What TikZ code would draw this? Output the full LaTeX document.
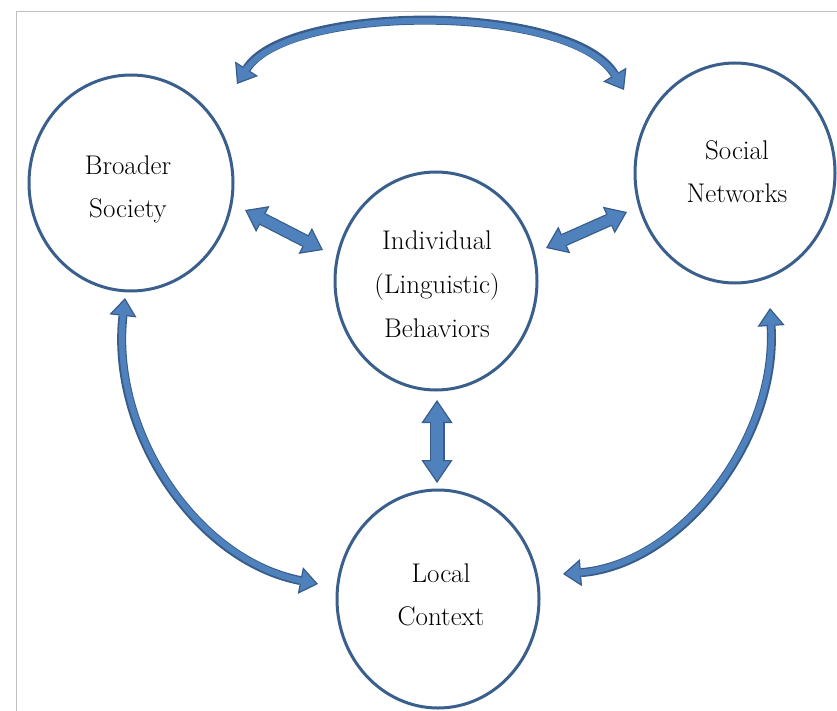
\documentclass[tikz,border=0pt]{standalone}
\usetikzlibrary{shapes.geometric, arrows.meta}

\definecolor{ringblue}{RGB}{58,95,140}
\definecolor{arrowfill}{RGB}{79,129,189}
\definecolor{arrowline}{RGB}{56,93,138}
\definecolor{framegray}{RGB}{191,191,191}

\begin{document}
\begin{tikzpicture}[x=1pt, y=-1pt,
  ring/.style={ellipse, draw=ringblue, line width=3pt, inner sep=0pt,
    minimum width=202pt, minimum height=218pt},
  lbl/.style={font=\fontsize{27}{32}\selectfont, anchor=base, inner sep=0pt},
  % fat straight double arrow: outlined heads, outlined shaft
  blockhead/.style={draw=arrowline, line width=1.2pt,
    {Triangle[length=20pt, width=29pt, fill=arrowfill]}-{Triangle[length=20pt, width=29pt, fill=arrowfill]}},
  blockedge/.style={draw=arrowline, line width=13pt, shorten <=20pt, shorten >=20pt},
  blockcore/.style={draw=arrowfill, line width=10.5pt, shorten <=17pt, shorten >=17pt},
  % bigger vertical double arrow
  tallhead/.style={draw=arrowline, line width=1.2pt,
    {Triangle[length=23pt, width=31pt, fill=arrowfill]}-{Triangle[length=23pt, width=31pt, fill=arrowfill]}},
  talledge/.style={draw=arrowline, line width=15pt, shorten <=23pt, shorten >=23pt},
  tallcore/.style={draw=arrowfill, line width=12.5pt, shorten <=20pt, shorten >=20pt},
  % thin curved double arrow
  curvehead/.style={draw=arrowline, line width=1.2pt,
    {Triangle[length=18pt, width=27pt, fill=arrowfill]}-{Triangle[length=18pt, width=27pt, fill=arrowfill]}},
  curveedge/.style={draw=arrowline, line width=9pt, shorten <=18pt, shorten >=18pt},
  curvecore/.style={draw=arrowfill, line width=6pt, shorten <=15pt, shorten >=15pt},
]
\useasboundingbox (0,0) rectangle (837,711);

% page frame
\draw[framegray, line width=1pt] (16,711) -- (16,12) -- (837,12);

% the four spheres
\node[ring, minimum width=204pt, minimum height=216pt] (bs) at (131,183) {};
\node[ring] (ind) at (436,281) {};
\node[ring, minimum width=200pt, minimum height=220pt] (sn) at (735,173) {};
\node[ring] (lc) at (438,599) {};

\node[lbl] (bs1) at (128,175) {Broader};
\node[lbl] (bs2) at (128,218) {Society};
\node[lbl] (in1) at (437,249) {Individual};
\node[lbl] (in2) at (437,293) {(Linguistic)};
\node[lbl] (in3) at (437,337) {Behaviors};
\node[lbl] (sn1) at (737,160) {Social};
\node[lbl] (sn2) at (737,203) {Networks};
\node[lbl] (lc1) at (441,582) {Local};
\node[lbl] (lc2) at (441,625) {Context};

% arrow end points
\coordinate (bsR) at (245,210);
\coordinate (inL) at (323,250);
\coordinate (inR) at (546,248);
\coordinate (snL) at (627,212);
\coordinate (inB) at (437,400);
\coordinate (lcT) at (437,483);
\coordinate (bsT) at (237,84);
\coordinate (snT) at (624,90);
\coordinate (bsB) at (125,298);
\coordinate (lcL) at (318,584);
\coordinate (snB) at (770,308);
\coordinate (lcR) at (563,574);

% straight double arrows
\foreach \a/\b in {bsR/inL, inR/snL}{
  \draw[blockhead] (\a) -- (\b);
  \draw[blockedge] (\a) -- (\b);
  \draw[blockcore] (\a) -- (\b);
}
\draw[tallhead] (inB) -- (lcT);
\draw[talledge] (inB) -- (lcT);
\draw[tallcore] (inB) -- (lcT);

% curved double arrows around the outside
\foreach \s in {curvehead, curveedge, curvecore}{
  \draw[\s] (bsT) .. controls (288,3) and (572,3) .. (snT);
  \draw[\s] (bsB) .. controls (110,430) and (195,560) .. (lcL);
  \draw[\s] (snB) .. controls (778,440) and (680,565) .. (lcR);
}
\end{tikzpicture}
\end{document}
